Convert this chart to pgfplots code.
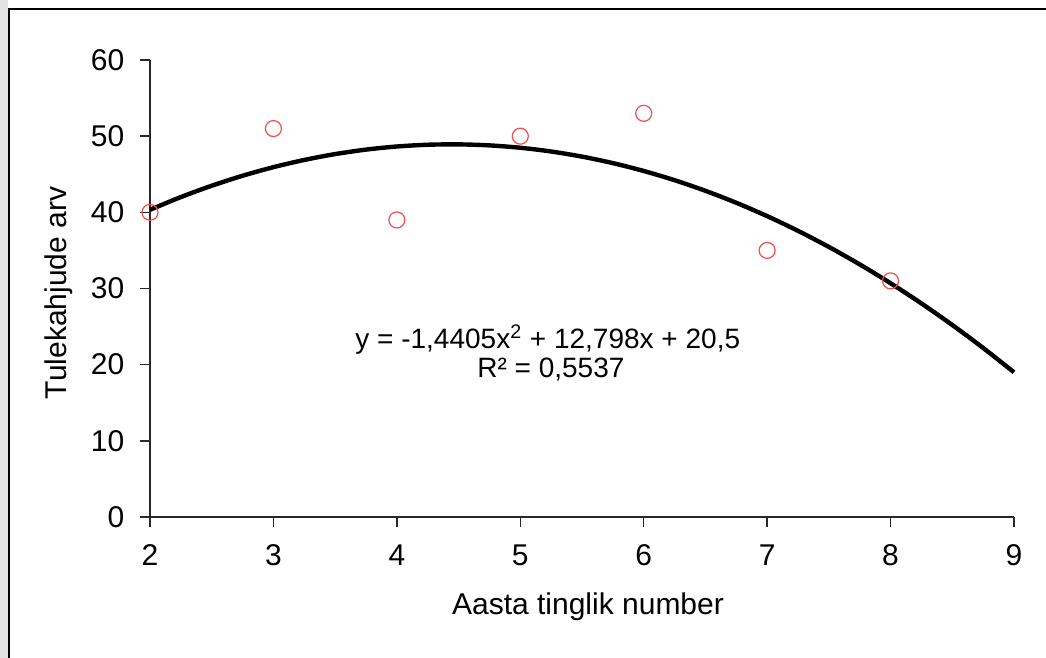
\documentclass[border=0pt]{standalone}
\usepackage{fontspec}
\setmainfont{Liberation Sans}
\usepackage{pgfplots}
\pgfplotsset{compat=1.18}
\definecolor{ptred}{RGB}{245,75,75}
\definecolor{axgray}{RGB}{40,40,40}

\begin{document}
\fontsize{14}{16}\selectfont
\begin{tikzpicture}
\useasboundingbox (0,0) rectangle (523pt,329pt);
\fill[gray!22] (0,0) rectangle (4pt,329pt);
\draw[black, line width=1pt] (4.5pt,0) -- (4.5pt,324.5pt) -- (523pt,324.5pt);
\begin{axis}[
    at={(75pt,70.5pt)}, anchor=origin,
    scale only axis, width=432pt, height=228.5pt,
    xmin=2, xmax=9, ymin=0, ymax=60,
    xtick={2,...,9}, ytick={0,10,...,60},
    axis x line*=bottom, axis y line*=left,
    axis line style={axgray, line width=0.7pt, -},
    tick align=outside, major tick length=5pt,
    tick style={axgray, line width=0.7pt},
    /pgf/number format/assume math mode=true,
    tick label style={font=\fontsize{15}{17}\selectfont},
    y tick label style={xshift=-3pt},
    x tick label style={yshift=-4pt},
    clip=false]
\addplot[black, line width=2.2pt, smooth] coordinates {
 (2,40.334) (2.25,42.003) (2.5,43.492) (2.75,44.801) (3,45.930) (3.25,46.878)
 (3.5,47.647) (3.75,48.236) (4,48.644) (4.25,48.873) (4.5,48.921) (4.75,48.789)
 (5,48.478) (5.25,47.986) (5.5,47.314) (5.75,46.462) (6,45.430) (6.25,44.218)
 (6.5,42.826) (6.75,41.254) (7,39.502) (7.25,37.569) (7.5,35.457) (7.75,33.165)
 (8,30.692) (8.25,28.040) (8.5,25.207) (8.75,22.194) (9,19.002)};
\addplot[only marks, mark=o, mark size=4pt, ptred, mark options={line width=0.6pt}] coordinates {
 (2,40) (3,51) (4,39) (5,50) (6,53) (7,35) (8,31)};
\node[anchor=base west, inner sep=0pt] at (axis cs:3.661,22.06) {y = -1,4405x\textsuperscript{2} + 12,798x + 20,5};
\node[anchor=base west, inner sep=0pt] at (axis cs:4.649,18.25) {R² = 0,5537};
\end{axis}
\node[anchor=base, font=\fontsize{15}{17}\selectfont] at (294pt,21.5pt) {Aasta tinglik number};
\node[rotate=90, font=\fontsize{15}{17}\selectfont] at (29.5pt,182.5pt) {Tulekahjude arv};
\end{tikzpicture}
\end{document}
